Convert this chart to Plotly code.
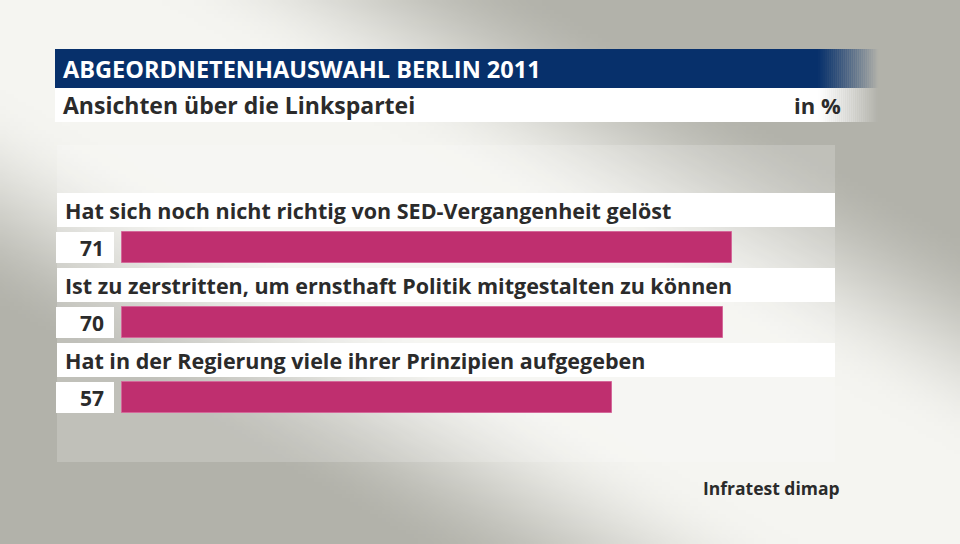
import base64
import struct
import zlib

import numpy as np
import plotly.graph_objects as go

# ---------------- data ----------------
categories = [
    "Hat sich noch nicht richtig von SED-Vergangenheit gelöst",
    "Ist zu zerstritten, um ernsthaft Politik mitgestalten zu können",
    "Hat in der Regierung viele ihrer Prinzipien aufgegeben",
]
values = [71, 70, 57]
title_text = "ABGEORDNETENHAUSWAHL BERLIN 2011"
subtitle_text = "Ansichten über die Linkspartei"
unit_text = "in %"
source_text = "Infratest dimap"

W, H = 960, 544
BAR_COLOR = "#bf2f6f"
BLUE = (7, 48, 107)
TEXT = "#2b2b2b"
FONT = "Open Sans"


# ---------------- background gradient image ----------------
def make_bg_png(w=240, h=136):
    ys, xs = np.mgrid[0:h, 0:w]
    px = (xs + 0.5) * W / w
    py = (ys + 0.5) * H / h
    L = np.hypot(W, H)
    ux, uy = W / L, H / L
    d = np.abs(px * uy - py * ux)
    t = np.clip((d - 80) / 200.0, 0, 1)
    t = t * t * (3 - 2 * t)
    light = np.array([245, 245, 241], dtype=float)
    dark = np.array([178, 178, 170], dtype=float)
    img = light[None, None, :] + (dark - light)[None, None, :] * t[..., None]
    img = img.clip(0, 255).astype(np.uint8)
    raw = b"".join(b"\x00" + img[r].tobytes() for r in range(h))

    def chunk(tag, data):
        c = struct.pack(">I", len(data)) + tag + data
        return c + struct.pack(">I", zlib.crc32(tag + data) & 0xFFFFFFFF)

    png = b"\x89PNG\r\n\x1a\n"
    png += chunk(b"IHDR", struct.pack(">IIBBBBB", w, h, 8, 2, 0, 0, 0))
    png += chunk(b"IDAT", zlib.compress(raw, 9))
    png += chunk(b"IEND", b"")
    return "data:image/png;base64," + base64.b64encode(png).decode()


def px_x(x):
    return x / W


def px_y(y):
    return 1 - y / H


# ---------------- axes geometry ----------------
X0_PX = 122.3          # pixel of value 0
PX_PER_UNIT = 8.585
ROW0_PX = 247.5        # pixel centre of first bar
ROW_STEP = 75.0
x_range = [-X0_PX / PX_PER_UNIT, (W - X0_PX) / PX_PER_UNIT]
y_range = [(H - ROW0_PX) / ROW_STEP, -ROW0_PX / ROW_STEP]

rows = list(range(len(categories)))

fig = go.Figure()
fig.add_trace(
    go.Bar(
        x=values,
        y=rows,
        orientation="h",
        width=31 / ROW_STEP,
        marker=dict(color=BAR_COLOR, line=dict(color="#d4689a", width=1)),
        hoverinfo="x",
        showlegend=False,
    )
)

shapes = []
annotations = []

# panel overlay
shapes.append(dict(type="rect", xref="paper", yref="paper",
                   x0=px_x(57), x1=px_x(835), y0=px_y(462), y1=px_y(145),
                   fillcolor="rgba(255,255,255,0.18)", line=dict(width=0), layer="below"))

# title bar (blue) + subtitle bar (white) with right-side fade
solid_end, fade_end = 818, 878
shapes.append(dict(type="rect", xref="paper", yref="paper",
                   x0=px_x(55), x1=px_x(solid_end), y0=px_y(88), y1=px_y(49),
                   fillcolor="rgb(%d,%d,%d)" % BLUE, line=dict(width=0), layer="below"))
shapes.append(dict(type="rect", xref="paper", yref="paper",
                   x0=px_x(55), x1=px_x(solid_end), y0=px_y(122), y1=px_y(88),
                   fillcolor="white", line=dict(width=0), layer="below"))
steps = 30
sw = (fade_end - solid_end) / steps
for i in range(steps):
    a = 1 - (i + 0.5) / steps
    xa = solid_end + i * sw
    shapes.append(dict(type="rect", xref="paper", yref="paper",
                       x0=px_x(xa), x1=px_x(xa + sw + 0.3), y0=px_y(88), y1=px_y(49),
                       fillcolor="rgba(%d,%d,%d,%.3f)" % (BLUE + (a,)), line=dict(width=0), layer="below"))
    shapes.append(dict(type="rect", xref="paper", yref="paper",
                       x0=px_x(xa), x1=px_x(xa + sw + 0.3), y0=px_y(122), y1=px_y(88),
                       fillcolor="rgba(255,255,255,%.3f)" % a, line=dict(width=0), layer="below"))

# label bands and value boxes per row
for i, (cat, val) in enumerate(zip(categories, values)):
    shapes.append(dict(type="rect", xref="paper", yref="y",
                       x0=px_x(57), x1=px_x(835),
                       y0=i - 54.5 / ROW_STEP, y1=i - 20.5 / ROW_STEP,
                       fillcolor="white", line=dict(width=0), layer="below"))
    shapes.append(dict(type="rect", xref="paper", yref="y",
                       x0=px_x(56), x1=px_x(114),
                       y0=i - 15.5 / ROW_STEP, y1=i + 15.5 / ROW_STEP,
                       fillcolor="white", line=dict(width=0), layer="below"))
    annotations.append(dict(xref="paper", yref="y", x=px_x(63), y=i - 37.5 / ROW_STEP,
                            text=cat, showarrow=False, xanchor="left", yanchor="middle",
                            font=dict(family=FONT, size=21.5, color=TEXT, weight="bold")))
    annotations.append(dict(xref="paper", yref="y", x=px_x(106), y=i,
                            text=str(val), showarrow=False, xanchor="right", yanchor="middle",
                            font=dict(family=FONT, size=21, color=TEXT, weight="bold")))

annotations.append(dict(xref="paper", yref="paper", x=px_x(61), y=px_y(69),
                        text=title_text, showarrow=False, xanchor="left", yanchor="middle",
                        font=dict(family=FONT, size=23.5, color="white", weight="bold")))
annotations.append(dict(xref="paper", yref="paper", x=px_x(61), y=px_y(105),
                        text=subtitle_text, showarrow=False, xanchor="left", yanchor="middle",
                        font=dict(family=FONT, size=23, color=TEXT, weight="bold")))
annotations.append(dict(xref="paper", yref="paper", x=px_x(843), y=px_y(105),
                        text=unit_text, showarrow=False, xanchor="right", yanchor="middle",
                        font=dict(family=FONT, size=22, color=TEXT, weight="bold")))
annotations.append(dict(xref="paper", yref="paper", x=px_x(842), y=px_y(488),
                        text=source_text, showarrow=False, xanchor="right", yanchor="middle",
                        font=dict(family=FONT, size=17.5, color=TEXT, weight="bold")))

fig.update_layout(
    width=W, height=H,
    margin=dict(l=0, r=0, t=0, b=0),
    paper_bgcolor="#f0f0ec",
    plot_bgcolor="rgba(0,0,0,0)",
    xaxis=dict(range=x_range, domain=[0, 1], visible=False, fixedrange=True),
    yaxis=dict(range=y_range, domain=[0, 1], visible=False, fixedrange=True),
    images=[dict(source=make_bg_png(), xref="paper", yref="paper", x=0, y=1,
                 sizex=1, sizey=1, sizing="stretch", xanchor="left", yanchor="top",
                 layer="below")],
    shapes=shapes,
    annotations=annotations,
    bargap=0,
)

fig.write_html(
    "out.html",
    config={"displayModeBar": False},
    post_script="document.body.style.margin='0';document.body.style.padding='0';"
                "document.body.style.overflow='hidden';",
)
